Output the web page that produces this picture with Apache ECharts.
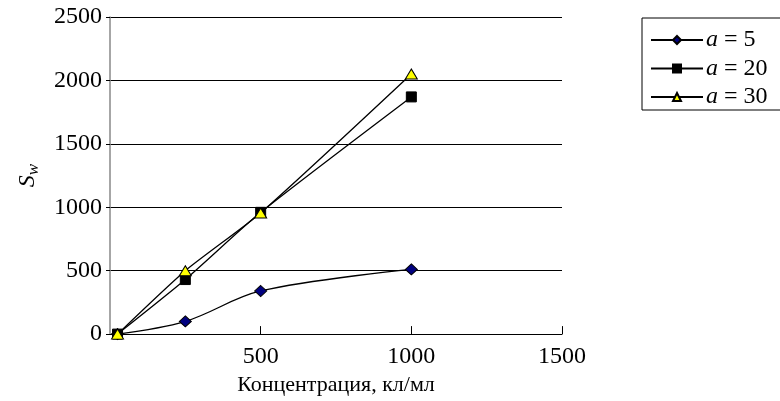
<!DOCTYPE html>
<html>
<head>
<meta charset="utf-8">
<script src="https://cdn.jsdelivr.net/npm/echarts@6/dist/echarts.min.js"></script>
<style>
html,body{margin:0;padding:0;background:#fff;}
#chart{width:780px;height:401px;}
</style>
</head>
<body>
<div id="chart"></div>
<script>
// Concentration values (кл/мл)
const concentration = [25, 250, 500, 1000];
// S_w for each value of a
const sw_a5 = [0, 100, 340, 510];
const sw_a20 = [0, 430, 960, 1870];
const sw_a30 = [0, 500, 955, 2050];
const seriesNames = ['a5', 'a20', 'a30'];
const seriesLabels = ['5', '20', '30'];
const xTicks = [0, 500, 1000, 1500];
const yTicks = [0, 500, 1000, 1500, 2000, 2500];

const FONT = '"Liberation Serif", "Times New Roman", serif';

function pairs(xs, ys) { return xs.map((x, i) => [x, ys[i]]); }

const chart = echarts.init(document.getElementById('chart'), null, { renderer: 'canvas' });

const lineStyle = { color: '#000', width: 1.3 };

chart.setOption({
  animation: false,
  backgroundColor: '#fff',
  grid: { left: 110, right: 218, top: 17, bottom: 65, containLabel: false },
  legend: {
    orient: 'vertical',
    left: 642, top: 18,
    padding: [10, 40, 1, 8],
    itemGap: 4.5,
    itemWidth: 52,
    itemHeight: 10,
    borderColor: '#000',
    borderWidth: 1,
    data: seriesNames,
    formatter: name => '{i|a} = ' + seriesLabels[seriesNames.indexOf(name)],
    textStyle: {
      fontFamily: FONT, fontSize: 24, lineHeight: 22, color: '#000', padding: [0, 0, 0, -2],
      rich: { i: { fontFamily: FONT, fontSize: 24, lineHeight: 22, fontStyle: 'italic', color: '#000' } }
    }
  },
  xAxis: {
    type: 'value',
    min: xTicks[0], max: xTicks[xTicks.length - 1], interval: 500,
    name: 'Концентрация, кл/мл',
    nameLocation: 'middle', nameGap: 38,
    nameTextStyle: { fontFamily: FONT, fontSize: 22, color: '#000' },
    axisLine: { lineStyle: { color: '#000', width: 1 } },
    axisTick: { inside: true, length: 8, lineStyle: { color: '#000' } },
    axisLabel: {
      showMinLabel: false, margin: 11,
      fontFamily: FONT, fontSize: 24, color: '#000',
      formatter: v => String(v)
    },
    splitLine: { show: false }
  },
  yAxis: {
    type: 'value',
    min: yTicks[0], max: yTicks[yTicks.length - 1], interval: 500,
    name: '{s|S}{w|w}',
    nameLocation: 'middle', nameGap: 68, nameRotate: 90,
    nameTextStyle: {
      color: '#000',
      rich: {
        s: { fontFamily: FONT, fontSize: 24, fontStyle: 'italic', color: '#000' },
        w: { fontFamily: FONT, fontSize: 17, fontStyle: 'italic', color: '#000', padding: [12, 0, 0, 0] }
      }
    },
    axisLine: { show: true, lineStyle: { color: '#888', width: 1.5 } },
    axisTick: { show: true, length: 4, lineStyle: { color: '#000' } },
    axisLabel: {
      margin: 8, fontFamily: FONT, fontSize: 24, color: '#000',
      formatter: v => String(v)
    },
    splitLine: { show: true, lineStyle: { color: '#000', width: 1 } }
  },
  series: [
    {
      name: seriesNames[0], type: 'line', smooth: 0.35,
      data: pairs(concentration, sw_a5),
      symbol: 'diamond', symbolSize: [12, 11],
      lineStyle: lineStyle,
      itemStyle: { color: '#000080', borderColor: '#000', borderWidth: 1 }
    },
    {
      name: seriesNames[1], type: 'line', smooth: 0.2,
      data: pairs(concentration, sw_a20),
      symbol: 'rect', symbolSize: [10, 10],
      lineStyle: lineStyle,
      itemStyle: { color: '#000', borderColor: '#000', borderWidth: 1 }
    },
    {
      name: seriesNames[2], type: 'line', smooth: 0.2,
      data: pairs(concentration, sw_a30),
      symbol: 'triangle', symbolSize: [12, 10],
      lineStyle: lineStyle,
      itemStyle: { color: '#ffff00', borderColor: '#000', borderWidth: 1 }
    }
  ]
});
</script>
</body>
</html>
